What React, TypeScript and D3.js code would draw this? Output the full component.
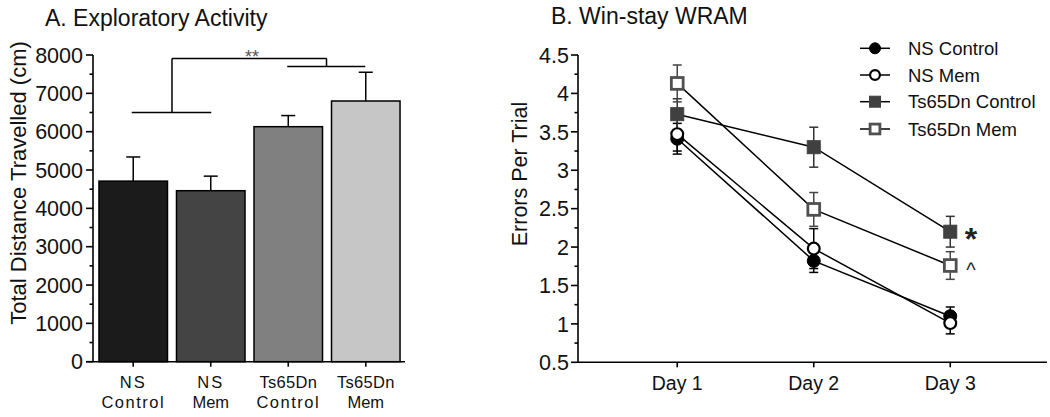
import React from "react";
import * as d3 from "d3";

// ---------- Panel A data ----------
const barGroups = ["NS Control", "NS Mem", "Ts65Dn Control", "Ts65Dn Mem"];
const barLabelLine1 = ["NS", "NS", "Ts65Dn", "Ts65Dn"];
const barLabelLine2 = ["Control", "Mem", "Control", "Mem"];
const barMeans = [4710, 4460, 6130, 6800];
const barErrors = [630, 380, 290, 750];
const barFills = ["#1b1b1b", "#444444", "#808080", "#c6c6c6"];
const barYTicks = [0, 1000, 2000, 3000, 4000, 5000, 6000, 7000, 8000];
const bracketLow = 6500;
const bracketTop = 7910;
const bracketRight = 7700;

// ---------- Panel B data ----------
const days = ["Day 1", "Day 2", "Day 3"];
const lineYTicks = [0.5, 1, 1.5, 2, 2.5, 3, 3.5, 4, 4.5];
const nsControl = [3.41, 1.82, 1.1];
const nsControlErr = [0.2, 0.15, 0.12];
const nsMem = [3.47, 1.98, 1.01];
const nsMemErr = [0.22, 0.26, 0.14];
const tsControl = [3.73, 3.3, 2.2];
const tsControlErr = [0.2, 0.26, 0.2];
const tsMem = [4.13, 2.49, 1.76];
const tsMemErr = [0.24, 0.22, 0.18];

const FONT = "'Liberation Sans', Arial, Helvetica, sans-serif";
const INK = "#111";

type Series = {
  name: string;
  values: number[];
  errors: number[];
  shape: "circle" | "square";
  fill: string;
  stroke: string;
  errColor: string;
};

const series: Series[] = [
  { name: "NS Control", values: nsControl, errors: nsControlErr, shape: "circle", fill: "#000", stroke: "#000", errColor: "#000" },
  { name: "NS Mem", values: nsMem, errors: nsMemErr, shape: "circle", fill: "#fff", stroke: "#000", errColor: "#000" },
  { name: "Ts65Dn Control", values: tsControl, errors: tsControlErr, shape: "square", fill: "#404040", stroke: "#404040", errColor: "#333" },
  { name: "Ts65Dn Mem", values: tsMem, errors: tsMemErr, shape: "square", fill: "#fff", stroke: "#505050", errColor: "#444" },
];

function Marker({ s, x, y, size }: { s: Series; x: number; y: number; size: number }) {
  const open = s.fill === "#fff";
  const sw = open ? 2.2 : 1;
  if (s.shape === "circle") {
    return <circle cx={x} cy={y} r={size / 2 - sw / 2} fill={s.fill} stroke={s.stroke} strokeWidth={sw} />;
  }
  const h = size / 2 - sw / 2;
  return <rect x={x - h} y={y - h} width={2 * h} height={2 * h} fill={s.fill} stroke={s.stroke} strokeWidth={open ? 2.8 : 1} />;
}

export default function App() {
  // Panel A scales
  const yA = d3.scaleLinear().domain([0, 8000]).range([361.7, 55]);
  const xA = d3.scaleBand<string>().domain(barGroups).range([93, 406]).paddingInner(0.116).paddingOuter(0.077);
  const axisAX = 93;
  const minorA = d3.range(500, 8000, 1000);
  const cx = (i: number) => (xA(barGroups[i]) as number) + xA.bandwidth() / 2;

  // Panel B scales
  const yB = d3.scaleLinear().domain([0.5, 4.5]).range([362.3, 55]);
  const xB = d3.scalePoint<string>().domain(days).range([578, 1049.5]).padding(0.727);
  const axisBX = 578;
  const minorB = d3.range(0.75, 4.5, 0.5);
  const line = d3
    .line<number>()
    .x((_, i) => xB(days[i]) as number)
    .y((v) => yB(v));

  const legendRows = [48.3, 75, 101.7, 129];

  return (
    <svg
      width={1050}
      height={417}
      style={{ position: "absolute", left: 0, top: 0, background: "#fff" }}
      fontFamily={FONT}
    >
      <rect x={0} y={0} width={1050} height={417} fill="#fff" />

      {/* ===== Panel A ===== */}
      <text x={45} y={26} fontSize={23} fill={INK}>
        A. Exploratory Activity
      </text>
      <text
        transform={`translate(26,${183}) rotate(-90)`}
        textAnchor="middle"
        fontSize={22}
        fill={INK}
      >
        Total Distance Travelled (cm)
      </text>

      {/* bars */}
      {barGroups.map((g, i) => (
        <rect
          key={g}
          x={xA(g)}
          y={yA(barMeans[i])}
          width={xA.bandwidth()}
          height={yA(0) - yA(barMeans[i])}
          fill={barFills[i]}
          stroke="#000"
          strokeWidth={1.5}
        />
      ))}
      {/* error bars (upper only) */}
      {barGroups.map((g, i) => {
        const x = cx(i);
        const top = yA(barMeans[i] + barErrors[i]);
        return (
          <g key={"e" + g} stroke="#000" strokeWidth={1.5}>
            <line x1={x} x2={x} y1={yA(barMeans[i])} y2={top} />
            <line x1={x - 7} x2={x + 7} y1={top} y2={top} />
          </g>
        );
      })}

      {/* y axis A */}
      <g stroke="#000" strokeWidth={1.6}>
        <line x1={axisAX} x2={axisAX} y1={yA(8000)} y2={yA(0)} />
        {barYTicks.map((t) => (
          <line key={t} x1={axisAX - 7} x2={axisAX} y1={yA(t)} y2={yA(t)} />
        ))}
        {minorA.map((t) => (
          <line key={"m" + t} x1={axisAX - 3.5} x2={axisAX} y1={yA(t)} y2={yA(t)} />
        ))}
        <line x1={axisAX - 7} x2={405} y1={yA(0)} y2={yA(0)} />
        {barGroups.map((g, i) => (
          <line key={"xt" + g} x1={cx(i)} x2={cx(i)} y1={yA(0)} y2={yA(0) + 5} />
        ))}
      </g>
      {barYTicks.map((t) => (
        <text key={"yl" + t} x={83} y={yA(t)} dy="0.36em" textAnchor="end" fontSize={21.5} fill={INK}>
          {t}
        </text>
      ))}
      {barGroups.map((g, i) => (
        <g key={"xl" + g} fontSize={16.5} fill={INK} textAnchor="middle">
          <text x={cx(i)} y={388.3} letterSpacing={barLabelLine1[i] === "NS" ? 2 : 0.3}>
            {barLabelLine1[i]}
          </text>
          <text x={cx(i)} y={408.3} letterSpacing={barLabelLine2[i] === "Control" ? 1.5 : 0}>
            {barLabelLine2[i]}
          </text>
        </g>
      ))}

      {/* significance bracket */}
      <g stroke="#000" strokeWidth={1.5} fill="none">
        <line x1={cx(0) - 1.5} x2={cx(1) + 0.5} y1={yA(bracketLow)} y2={yA(bracketLow)} />
        <line x1={(cx(0) + cx(1)) / 2} x2={(cx(0) + cx(1)) / 2} y1={yA(bracketLow)} y2={yA(bracketTop)} />
        <line x1={(cx(0) + cx(1)) / 2} x2={(cx(2) + cx(3)) / 2 - 0.5} y1={yA(bracketTop)} y2={yA(bracketTop)} />
        <line x1={(cx(2) + cx(3)) / 2 - 0.5} x2={(cx(2) + cx(3)) / 2 - 0.5} y1={yA(bracketTop)} y2={yA(bracketRight)} />
        <line x1={cx(2) - 1} x2={cx(3) - 0.5} y1={yA(bracketRight)} y2={yA(bracketRight)} />
      </g>
      <text x={252} y={63} textAnchor="middle" fontSize={18} fill="#555">
        **
      </text>

      {/* ===== Panel B ===== */}
      <text x={551} y={23.5} fontSize={23} fill={INK}>
        B. Win-stay WRAM
      </text>
      <text transform={`translate(527,174) rotate(-90)`} textAnchor="middle" fontSize={21.5} fill={INK}>
        Errors Per Trial
      </text>

      <g stroke="#000" strokeWidth={1.6}>
        <line x1={axisBX} x2={axisBX} y1={yB(4.5)} y2={yB(0.5)} />
        {lineYTicks.map((t) => (
          <line key={t} x1={axisBX - 7} x2={axisBX} y1={yB(t)} y2={yB(t)} />
        ))}
        {minorB.map((t) => (
          <line key={"m" + t} x1={axisBX - 3.5} x2={axisBX} y1={yB(t)} y2={yB(t)} />
        ))}
        <line x1={axisBX} x2={1047} y1={yB(0.5)} y2={yB(0.5)} />
        {days.map((d) => (
          <line key={"xt" + d} x1={xB(d)} x2={xB(d)} y1={yB(0.5)} y2={yB(0.5) + 5} />
        ))}
      </g>
      {lineYTicks.map((t) => (
        <text key={"yl" + t} x={569} y={yB(t)} dy="0.36em" textAnchor="end" fontSize={21.5} fill={INK}>
          {t}
        </text>
      ))}
      {days.map((d) => (
        <text key={"dl" + d} x={xB(d)} y={390} textAnchor="middle" fontSize={19.5} fill={INK}>
          {d}
        </text>
      ))}

      {/* lines */}
      {series.map((s) => (
        <path key={"l" + s.name} d={line(s.values) || ""} fill="none" stroke="#000" strokeWidth={1.5} />
      ))}
      {/* error bars */}
      {series.map((s) =>
        s.values.map((v, i) => {
          const x = xB(days[i]) as number;
          const t = yB(v + s.errors[i]);
          const b = yB(v - s.errors[i]);
          return (
            <g key={"eb" + s.name + i} stroke={s.errColor} strokeWidth={1.5}>
              <line x1={x} x2={x} y1={t} y2={b} />
              <line x1={x - 4.5} x2={x + 4.5} y1={t} y2={t} />
              <line x1={x - 4.5} x2={x + 4.5} y1={b} y2={b} />
            </g>
          );
        })
      )}
      {/* markers */}
      {series.map((s) =>
        s.values.map((v, i) => (
          <Marker key={"mk" + s.name + i} s={s} x={xB(days[i]) as number} y={yB(v)} size={14} />
        ))
      )}

      {/* annotations */}
      <text x={971} y={250} textAnchor="middle" fontSize={32} fontWeight="bold" fill="#222">
        *
      </text>
      <text x={971} y={277} textAnchor="middle" fontSize={20} fill="#222">
        ^
      </text>

      {/* legend */}
      {series.map((s, i) => (
        <g key={"lg" + s.name}>
          <line x1={860} x2={890} y1={legendRows[i]} y2={legendRows[i]} stroke="#000" strokeWidth={1.5} />
          <Marker s={s} x={875} y={legendRows[i]} size={12} />
          <text x={908} y={legendRows[i]} dy="0.36em" fontSize={18.5} fill={INK}>
            {s.name}
          </text>
        </g>
      ))}
    </svg>
  );
}
